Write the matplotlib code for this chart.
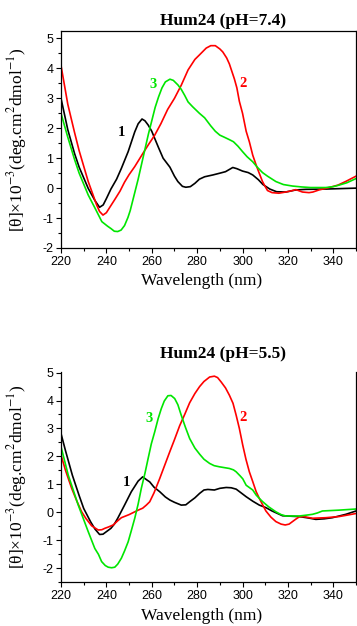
import numpy as np
import matplotlib
matplotlib.use("Agg")
import matplotlib.pyplot as plt
from matplotlib.ticker import MultipleLocator

plt.rcParams['font.family'] = ['Liberation Serif', 'DejaVu Serif']
plt.rcParams['mathtext.fontset'] = 'stix'
plt.rcParams['axes.unicode_minus'] = False

# ---- Hum24, pH 7.4 ----
t1_wl = [220, 223, 226, 228, 232, 235, 237, 238.6, 240, 242, 244.5, 246.6, 249.6, 252.5, 254,
         255.7, 257, 258.4, 260, 261.3, 263, 265, 266.5, 268, 270, 271.5, 273.5, 275, 277, 279,
         281, 283.3, 286.9, 290, 292.5, 295.7, 297.5, 300, 302.5, 304.5, 307, 309, 312, 315, 319,
         323.5, 328, 337, 350]
t1_val = [3.0, 1.95, 1.15, 0.7, -0.01, -0.42, -0.64, -0.56, -0.35, -0.03, 0.3, 0.66, 1.22, 1.88, 2.15,
          2.31, 2.25, 2.11, 1.9, 1.66, 1.35, 1.0, 0.85, 0.7, 0.4, 0.22, 0.06, 0.03, 0.05, 0.16,
          0.3, 0.38, 0.44, 0.5, 0.55, 0.69, 0.65, 0.57, 0.52, 0.44, 0.28, 0.12, -0.03, -0.12, -0.13,
          -0.06, -0.04, -0.03, 0.0]

t2_wl = [220, 223, 226, 228, 232, 234, 235.7, 237, 238.5, 240, 241, 243.7, 246, 248, 250, 252.5,
         256, 258.5, 261.3, 264, 267, 270, 273, 276, 279, 281, 284, 286, 288, 290, 291.3, 293,
         294.2, 296.4, 297.5, 298.6, 300, 301.6, 303, 304.5, 306, 307.4, 308.8, 310, 311, 313,
         316, 319, 321, 323.5, 326.4, 329.3, 331, 333.7, 336, 339.6, 342, 345.4, 350]
t2_val = [4.1, 2.8, 1.85, 1.25, 0.22, -0.2, -0.56, -0.78, -0.9, -0.82, -0.7, -0.38, -0.1, 0.2, 0.45, 0.72,
          1.15, 1.45, 1.77, 2.15, 2.63, 3.0, 3.44, 3.95, 4.3, 4.45, 4.68, 4.76, 4.76, 4.65, 4.55, 4.35,
          4.15, 3.65, 3.35, 2.9, 2.5, 1.9, 1.55, 1.1, 0.77, 0.49, 0.22, 0.05, -0.08, -0.15,
          -0.17, -0.13, -0.1, -0.05, -0.13, -0.15, -0.13, -0.06, -0.02, 0.05, 0.1, 0.22, 0.4]

t3_wl = [220, 223, 226, 228, 232, 235, 238, 240.5, 242, 243.5, 245, 246.5, 248, 249.5, 250.5, 252.5,
         254, 255.5, 257, 258.5, 260, 261.5, 263, 264.5, 266, 268, 269.5, 271.5, 273, 274.5, 276,
         278, 281, 283.3, 286, 288, 290, 292, 294.2, 296, 298, 300, 302, 304.5, 306.5, 308.8, 311,
         314.7, 318, 322, 326, 330, 336.7, 340, 342.5, 346, 350]
t3_val = [2.5, 1.7, 0.95, 0.5, -0.23, -0.67, -1.12, -1.27, -1.35, -1.44, -1.45, -1.4, -1.25, -0.98, -0.75, -0.15,
          0.3, 0.8, 1.3, 1.8, 2.25, 2.7, 3.05, 3.35, 3.55, 3.64, 3.6, 3.45, 3.3, 3.1, 2.88,
          2.72, 2.5, 2.35, 2.08, 1.9, 1.77, 1.7, 1.62, 1.55, 1.4, 1.22, 1.05, 0.88, 0.7, 0.52, 0.4,
          0.22, 0.12, 0.07, 0.04, 0.02, 0.02, 0.05, 0.1, 0.18, 0.32]

# ---- Hum24, pH 5.5 ----
b1_wl = [220, 222, 225, 228, 230, 233, 235, 237, 238.5, 240, 242, 243.5, 245, 248, 251, 254, 256, 258,
         259.1, 261, 263.5, 266, 268, 270, 273, 275, 276.7, 279, 281.1, 283, 284.7, 287.6, 290,
         292.8, 295, 297.2, 299, 301.6, 304.5, 307.4, 310.3, 313, 317.6, 322, 325, 329, 332.3,
         336, 339.6, 345.5, 350]
b1_val = [2.82, 2.2, 1.33, 0.6, 0.14, -0.33, -0.6, -0.79, -0.78, -0.69, -0.57, -0.42, -0.21, 0.26, 0.74, 1.12, 1.27, 1.15,
          1.09, 0.9, 0.74, 0.55, 0.44, 0.36, 0.26, 0.27, 0.38, 0.52, 0.68, 0.8, 0.82, 0.8, 0.86,
          0.89, 0.88, 0.83, 0.72, 0.56, 0.4, 0.26, 0.17, 0.05, -0.12, -0.14, -0.15, -0.2, -0.25,
          -0.23, -0.19, -0.07, 0.05]

b2_wl = [220, 222, 224.7, 227, 229.1, 231, 233.5, 236.4, 238, 239.3, 241, 243, 245, 246.6, 250, 254,
         256, 257.6, 259.1, 261, 263.5, 266, 267.9, 270, 272.3, 274.5, 276.7, 279, 281.1, 283,
         285.5, 287.6, 289, 290.6, 292.5, 294.2, 295.8, 297.2, 298.6, 300.1, 301.5, 303, 304.5,
         306, 307.4, 308.8, 310.3, 312.5, 314.7, 317, 318.8, 320.5, 322, 323.5, 325, 327, 330.8,
         336.7, 342.5, 346, 350]
b2_val = [2.05, 1.5, 0.86, 0.4, 0.02, -0.22, -0.48, -0.63, -0.62, -0.57, -0.52, -0.45, -0.3, -0.19, -0.08, 0.08,
          0.15, 0.26, 0.38, 0.7, 1.21, 1.75, 2.16, 2.6, 3.1, 3.5, 3.92, 4.25, 4.5, 4.68,
          4.84, 4.87, 4.82, 4.66, 4.45, 4.19, 3.9, 3.47, 3.0, 2.4, 1.9, 1.45, 1.1,
          0.74, 0.5, 0.28, 0.05, -0.17, -0.33, -0.42, -0.45, -0.42, -0.33, -0.24, -0.16, -0.15, -0.21,
          -0.19, -0.15, -0.1, -0.04]

b3_wl = [220, 223.2, 227.6, 232, 234.9, 236.5, 237.9, 239.5, 240.8, 242.3, 243.7, 245, 246.6, 248,
         249.6, 251, 252.5, 254, 255.4, 257, 258.4, 259.8, 261.3, 262.8, 264.2, 265.5, 267.1,
         268.5, 270.1, 271.5, 273, 274.8, 276.7, 279, 281.1, 283, 285.5, 287.5, 289.8, 292,
         294.2, 296, 297.2, 299, 300.1, 301.6, 304.5, 306, 307.4, 308.9, 311.5, 314.7, 317,
         319.1, 325, 328, 330.8, 333, 335.2, 342.5, 350]
b3_val = [2.35, 1.33, 0.26, -0.69, -1.29, -1.5, -1.76, -1.9, -1.96, -1.98, -1.96, -1.85, -1.64, -1.38,
          -1.05, -0.65, -0.21, 0.3, 0.86, 1.4, 1.93, 2.45, 2.88, 3.35, 3.71, 3.98, 4.17,
          4.18, 4.07, 3.85, 3.47, 3.05, 2.64, 2.3, 2.08, 1.9, 1.75, 1.67, 1.63, 1.6,
          1.57, 1.52, 1.45, 1.3, 1.2, 0.97, 0.8, 0.62, 0.5, 0.38, 0.2, 0.02, -0.08,
          -0.13, -0.13, -0.1, -0.07, -0.02, 0.05, 0.08, 0.12]

titles = ['Hum24 (pH=7.4)', 'Hum24 (pH=5.5)']
curve_names = ['1', '2', '3']
colors = ['black', '#ff0000', '#00e600']

# posiciones de las etiquetas (nm, valor)
label_pos_top = [(246.6, 1.86), (300.2, 3.5), (260.4, 3.45)]
label_pos_bot = [(248.8, 1.06), (300.2, 3.41), (258.6, 3.36)]

W, H = 357, 626
fig = plt.figure(figsize=(W / 100, H / 100), dpi=100)

ax_top = fig.add_axes([61 / W, 1 - 248 / H, 295 / W, 217 / H])
ax_bot = fig.add_axes([61 / W, 1 - 582.3 / H, 295 / W, 210.6 / H])


def style_axis(ax, ylim, title, title_y, top_spine=True):
    ax.set_xlim(220, 350)
    ax.set_ylim(*ylim)
    ax.xaxis.set_major_locator(MultipleLocator(20))
    ax.xaxis.set_minor_locator(MultipleLocator(10))
    ax.yaxis.set_major_locator(MultipleLocator(1))
    ax.yaxis.set_minor_locator(MultipleLocator(0.5))
    ax.tick_params(which='major', direction='out', length=3.5, width=0.8, pad=2)
    ax.tick_params(which='minor', direction='out', length=2, width=0.8)
    for lab in ax.get_xticklabels() + ax.get_yticklabels():
        lab.set_family(['Liberation Sans', 'DejaVu Sans'])
        lab.set_fontsize(9)
    for sp in ax.spines.values():
        sp.set_linewidth(0.9)
    ax.spines['top'].set_visible(top_spine)
    ax.set_xlabel('Wavelength (nm)', fontsize=12.5, va='top')
    ax.set_ylabel('[θ]×10$^{-3}$(deg.cm$^{2}$dmol$^{-1}$)', fontsize=12.5)
    ax.yaxis.set_label_coords(-0.108, 0.5)
    ax.text(0.55, title_y, title, transform=ax.transAxes, ha='center', va='baseline',
            fontsize=12.5, fontweight='bold')


def draw_curves(ax, series, label_pos):
    for (wl, val), c, name, (lx, ly) in zip(series, colors, curve_names, label_pos):
        ax.plot(wl, val, color=c, lw=1.2, solid_joinstyle='round')
        ax.text(lx, ly, name, color=c, fontsize=10.5, fontweight='bold', ha='center', va='center')


draw_curves(ax_top, [(t1_wl, t1_val), (t2_wl, t2_val), (t3_wl, t3_val)], label_pos_top)
style_axis(ax_top, (-2, 5.25), titles[0], 1.028)
ax_top.xaxis.set_label_coords(0.477, -0.115)

draw_curves(ax_bot, [(b1_wl, b1_val), (b2_wl, b2_val), (b3_wl, b3_val)], label_pos_bot)
style_axis(ax_bot, (-2.5, 5.03), titles[1], 1.064, top_spine=False)
ax_bot.xaxis.set_label_coords(0.477, -0.122)

fig.savefig('out.png', dpi=100)
